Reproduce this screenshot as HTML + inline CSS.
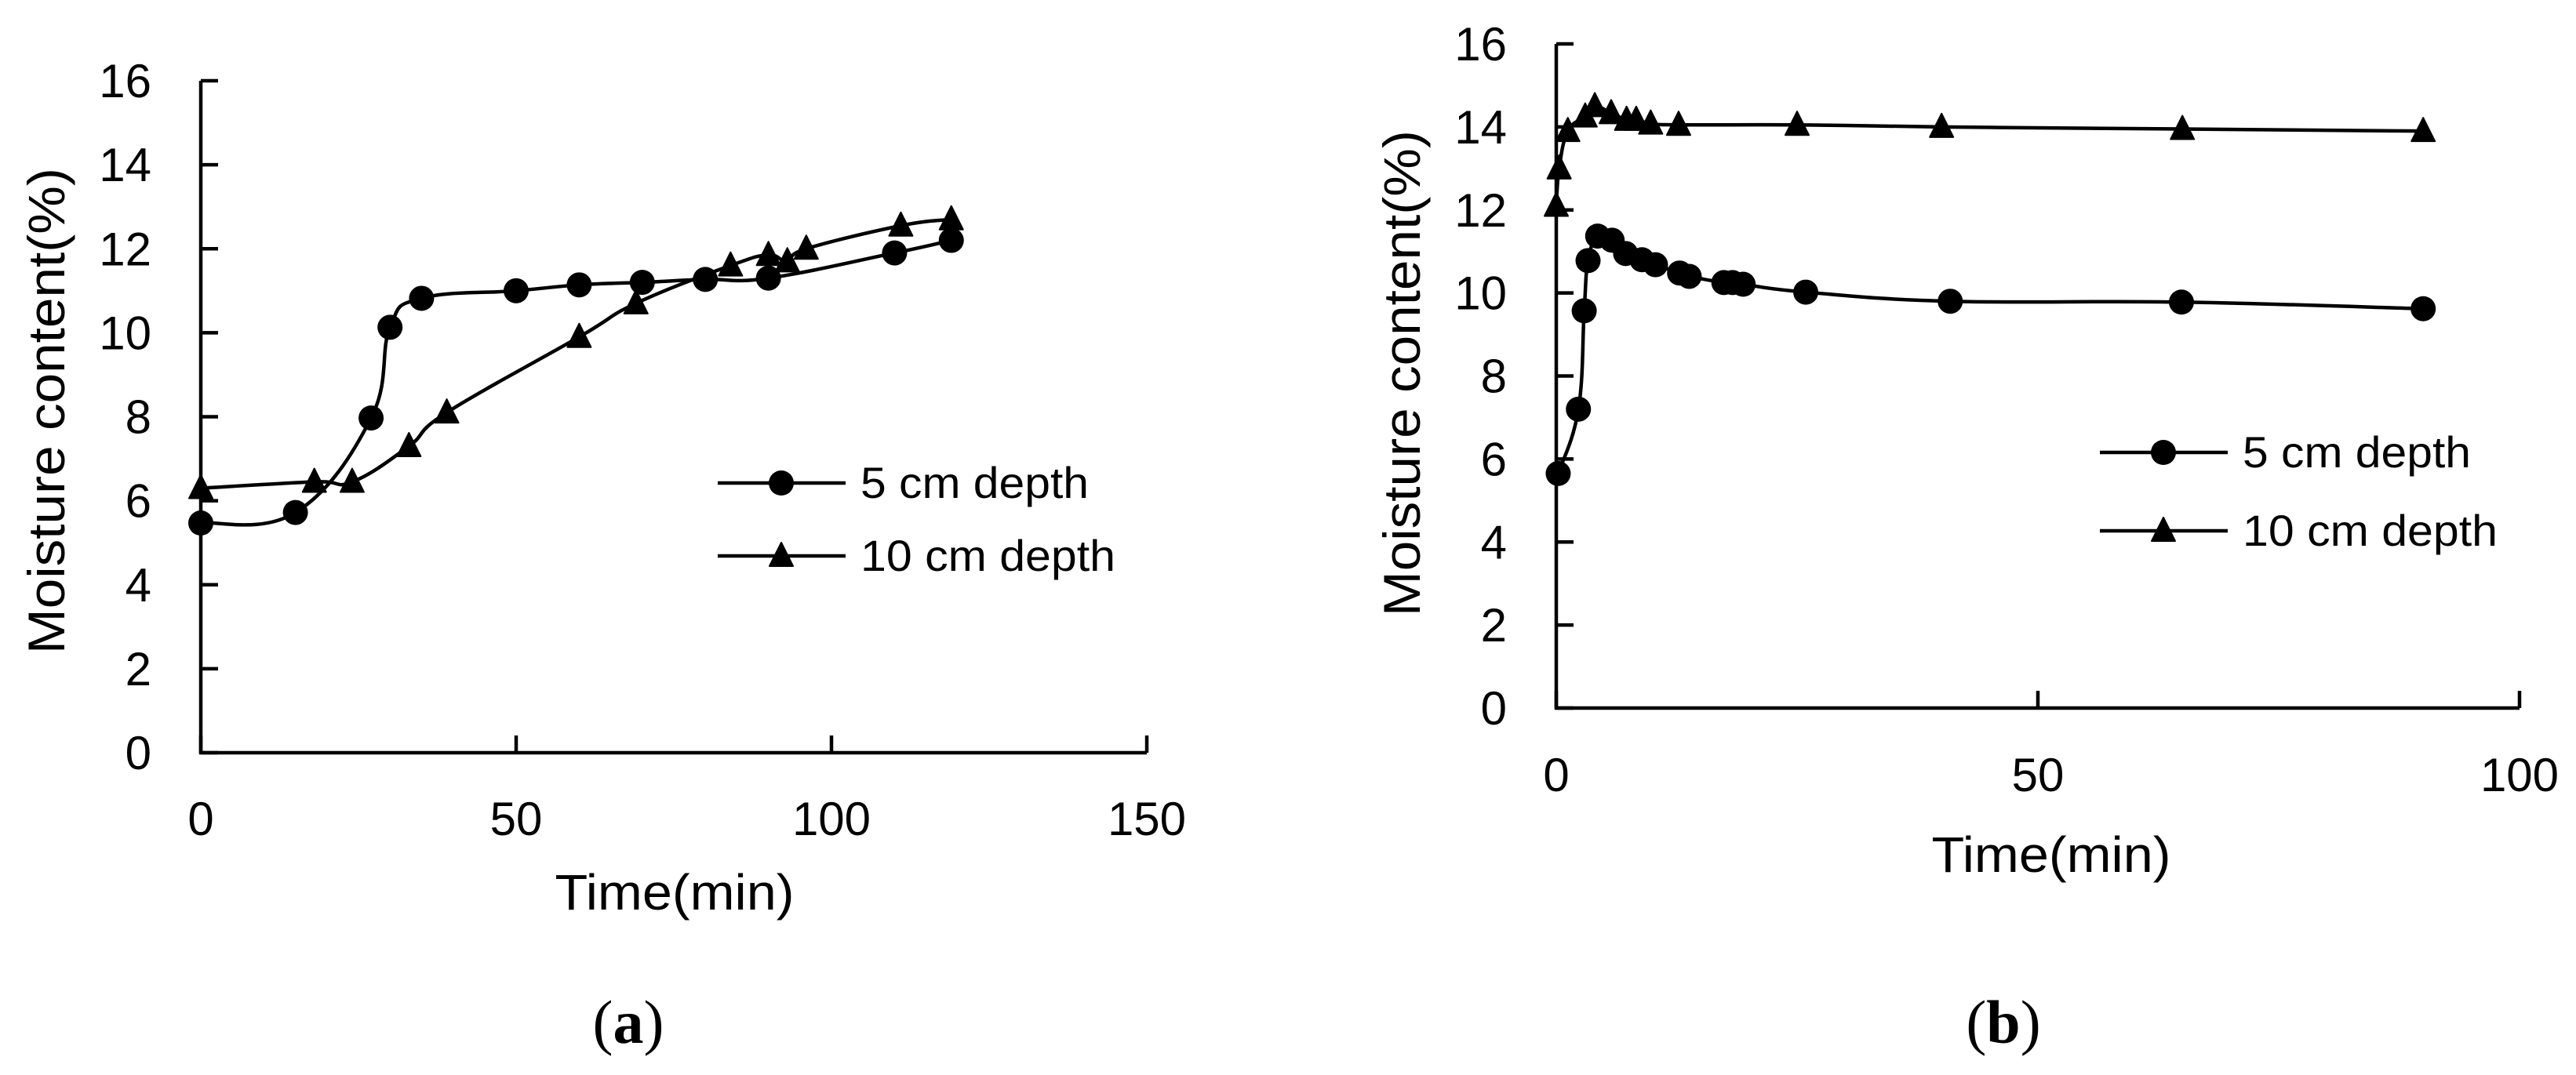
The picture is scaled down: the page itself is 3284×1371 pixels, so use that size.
<!DOCTYPE html>
<html><head><meta charset="utf-8"><style>
html,body{margin:0;padding:0;background:#fff;}
svg{display:block;font-family:"Liberation Sans",sans-serif;}
</style></head><body>
<svg id="svg" width="3284" height="1371" viewBox="0 0 3284 1371" xmlns="http://www.w3.org/2000/svg">
<rect width="3284" height="1371" fill="#fff"/>
<g id="chartA"></g>
<g id="chartB"></g>
</svg>
<script>
// Chart (a) data
const aCircleX = [0, 15, 27, 30, 35, 50, 60, 70, 80, 90, 110, 119];
const aCircleY = [5.47, 5.72, 7.97, 10.13, 10.82, 11.0, 11.14, 11.2, 11.27, 11.3, 11.9, 12.2];
const aTriX = [0, 18, 24, 33, 39, 60, 69, 84, 90, 93, 96, 111, 119];
const aTriY = [6.3, 6.45, 6.45, 7.3, 8.1, 9.9, 10.7, 11.6, 11.85, 11.7, 12.0, 12.55, 12.7];
const aXTicks = [0, 50, 100, 150];
const aYTicks = [0, 2, 4, 6, 8, 10, 12, 14, 16];
// Chart (b) data
const bCircleX = [0.2, 2.3, 2.9, 3.3, 4.3, 5.8, 7.2, 8.9, 10.3, 12.8, 13.8, 17.4, 18.3, 19.4, 25.9, 40.9, 64.9, 90];
const bCircleY = [5.65, 7.2, 9.57, 10.78, 11.37, 11.27, 10.95, 10.8, 10.68, 10.48, 10.4, 10.25, 10.25, 10.21, 10.02, 9.8, 9.78, 9.62];
const bTriX = [0, 0.3, 1.2, 3, 4, 5.7, 7.3, 8.3, 9.8, 12.7, 25, 40, 65, 90];
const bTriY = [12.1, 13.0, 13.9, 14.25, 14.5, 14.33, 14.17, 14.17, 14.08, 14.05, 14.05, 14.0, 13.95, 13.9];
const bXTicks = [0, 50, 100];
const bYTicks = [0, 2, 4, 6, 8, 10, 12, 14, 16];

const NS = "http://www.w3.org/2000/svg";
function mk(parent, tag, attrs, text){
  const e = document.createElementNS(NS, tag);
  for (const k in attrs) e.setAttribute(k, attrs[k]);
  if (text !== undefined) e.textContent = text;
  parent.appendChild(e);
  return e;
}
function spline(pts){
  let d = "M" + pts[0][0] + "," + pts[0][1];
  const t = 0.2;
  for (let i = 0; i < pts.length - 1; i++){
    const p0 = pts[Math.max(i-1,0)], p1 = pts[i], p2 = pts[i+1], p3 = pts[Math.min(i+2, pts.length-1)];
    const c1x = p1[0] + (p2[0]-p0[0])*t, c1y = p1[1] + (p2[1]-p0[1])*t;
    const c2x = p2[0] - (p3[0]-p1[0])*t, c2y = p2[1] - (p3[1]-p1[1])*t;
    d += " C" + c1x + "," + c1y + " " + c2x + "," + c2y + " " + p2[0] + "," + p2[1];
  }
  return d;
}
function tri(x, y){
  return "M" + x + "," + (y - 17) + " L" + (x + 15) + "," + (y + 13) + " L" + (x - 15) + "," + (y + 13) + " Z";
}
function draw(g, cfg){
  const sx = v => cfg.x0 + (v - cfg.xmin) / (cfg.xmax - cfg.xmin) * (cfg.x1 - cfg.x0);
  const sy = v => cfg.y0 - (v - cfg.ymin) / (cfg.ymax - cfg.ymin) * (cfg.y0 - cfg.y1);
  const ax = mk(g, "path", {d: "M" + cfg.x0 + "," + cfg.y1 + " L" + cfg.x0 + "," + cfg.y0 + " L" + cfg.x1 + "," + cfg.y0, fill: "none", stroke: "#000", "stroke-width": 4.5});
  
  
  cfg.yTicks.forEach(v => {
    const y = sy(v);
    const t = mk(g, "line", {x1: cfg.x0, x2: cfg.x0 + 22, y1: y, y2: y, stroke: "#000", "stroke-width": 4.5});
    
    
    const l = mk(g, "text", {x: cfg.x0 - 63, y: y + 21, "text-anchor": "end", "font-size": 60}, String(v));
    
    
  });
  cfg.xTicks.forEach(v => {
    const x = sx(v);
    const t = mk(g, "line", {x1: x, x2: x, y1: cfg.y0, y2: cfg.y0 - 22, stroke: "#000", "stroke-width": 4.5});
    
    
    const l = mk(g, "text", {x: x, y: cfg.y0 + cfg.xlabOff, "text-anchor": "middle", "font-size": 60}, String(v));
    
    
  });
  const xt = mk(g, "text", {x: cfg.xTitleX, y: cfg.xTitleY, "text-anchor": "middle", "font-size": 64, textLength: 305, lengthAdjust: "spacingAndGlyphs"}, "Time(min)");
  
  
  const yt = mk(g, "text", {x: 0, y: 0, "text-anchor": "middle", "font-size": 66, textLength: 620, lengthAdjust: "spacingAndGlyphs", transform: "translate(" + cfg.yTitleX + "," + cfg.yTitleY + ") rotate(-90)"}, "Moisture content(%)");
  
  
  const cap = mk(g, "text", {x: cfg.capX, y: 1330, "text-anchor": "middle", "font-size": 78, "font-family": "Liberation Serif, serif"});
  mk(cap, "tspan", {}, "(");
  mk(cap, "tspan", {"font-weight": "bold"}, cfg.cap);
  mk(cap, "tspan", {}, ")");
  
  

  const cPts = cfg.cx.map((v, i) => [sx(v), sy(cfg.cy[i])]);
  const tPts = cfg.tx.map((v, i) => [sx(v), sy(cfg.ty[i])]);
  const l1 = mk(g, "path", {d: spline(cPts), fill: "none", stroke: "#000", "stroke-width": 4.5});
  
  
  const l2 = mk(g, "path", {d: spline(tPts), fill: "none", stroke: "#000", "stroke-width": 4.5});
  
  
  cPts.forEach(p => {
    const c = mk(g, "circle", {cx: p[0], cy: p[1], r: 16, fill: "#000"});
    
    
  });
  tPts.forEach(p => {
    const t = mk(g, "path", {d: tri(p[0], p[1]), fill: "#000", stroke: "#000", "stroke-width": 2, "stroke-linejoin": "round"});
    
    
  });
  const lg = mk(g, "g", {});
  
  
  const L = cfg.leg;
  const e1 = mk(lg, "line", {x1: L.x, x2: L.x + 163, y1: L.y, y2: L.y, stroke: "#000", "stroke-width": 4.5});
  
  
  const e1m = mk(lg, "circle", {cx: L.x + 81, cy: L.y, r: 16, fill: "#000"});
  
  
  const e1t = mk(lg, "text", {x: L.x + 182, y: L.y + 19, "font-size": 56, textLength: 291, lengthAdjust: "spacingAndGlyphs"}, "5 cm depth");
  
  
  const y2 = L.y + L.gap;
  const e2 = mk(lg, "line", {x1: L.x, x2: L.x + 163, y1: y2, y2: y2, stroke: "#000", "stroke-width": 4.5});
  
  
  const e2m = mk(lg, "path", {d: tri(L.x + 81, y2), fill: "#000", stroke: "#000", "stroke-width": 2, "stroke-linejoin": "round"});
  
  
  const e2t = mk(lg, "text", {x: L.x + 182, y: y2 + 19, "font-size": 56, textLength: 325, lengthAdjust: "spacingAndGlyphs"}, "10 cm depth");
  
  
}
draw(document.getElementById("chartA"), {
  x0: 256, x1: 1462, y0: 960, y1: 103, xmin: 0, xmax: 150, ymin: 0, ymax: 16,
  xTicks: aXTicks, yTicks: aYTicks, xlabOff: 105,
  cx: aCircleX, cy: aCircleY, tx: aTriX, ty: aTriY,
  xTitleX: 860, xTitleY: 1160, yTitleX: 82, yTitleY: 524, capX: 801, cap: "a",
  leg: {x: 915, y: 616, gap: 93}
});
draw(document.getElementById("chartB"), {
  x0: 1984, x1: 3212, y0: 903, y1: 56, xmin: 0, xmax: 100, ymin: 0, ymax: 16,
  xTicks: bXTicks, yTicks: bYTicks, xlabOff: 106,
  cx: bCircleX, cy: bCircleY, tx: bTriX, ty: bTriY,
  xTitleX: 2615, xTitleY: 1112, yTitleX: 1810, yTitleY: 476, capX: 2554, cap: "b",
  leg: {x: 2677, y: 577, gap: 100}
});
</script>
</body></html>
